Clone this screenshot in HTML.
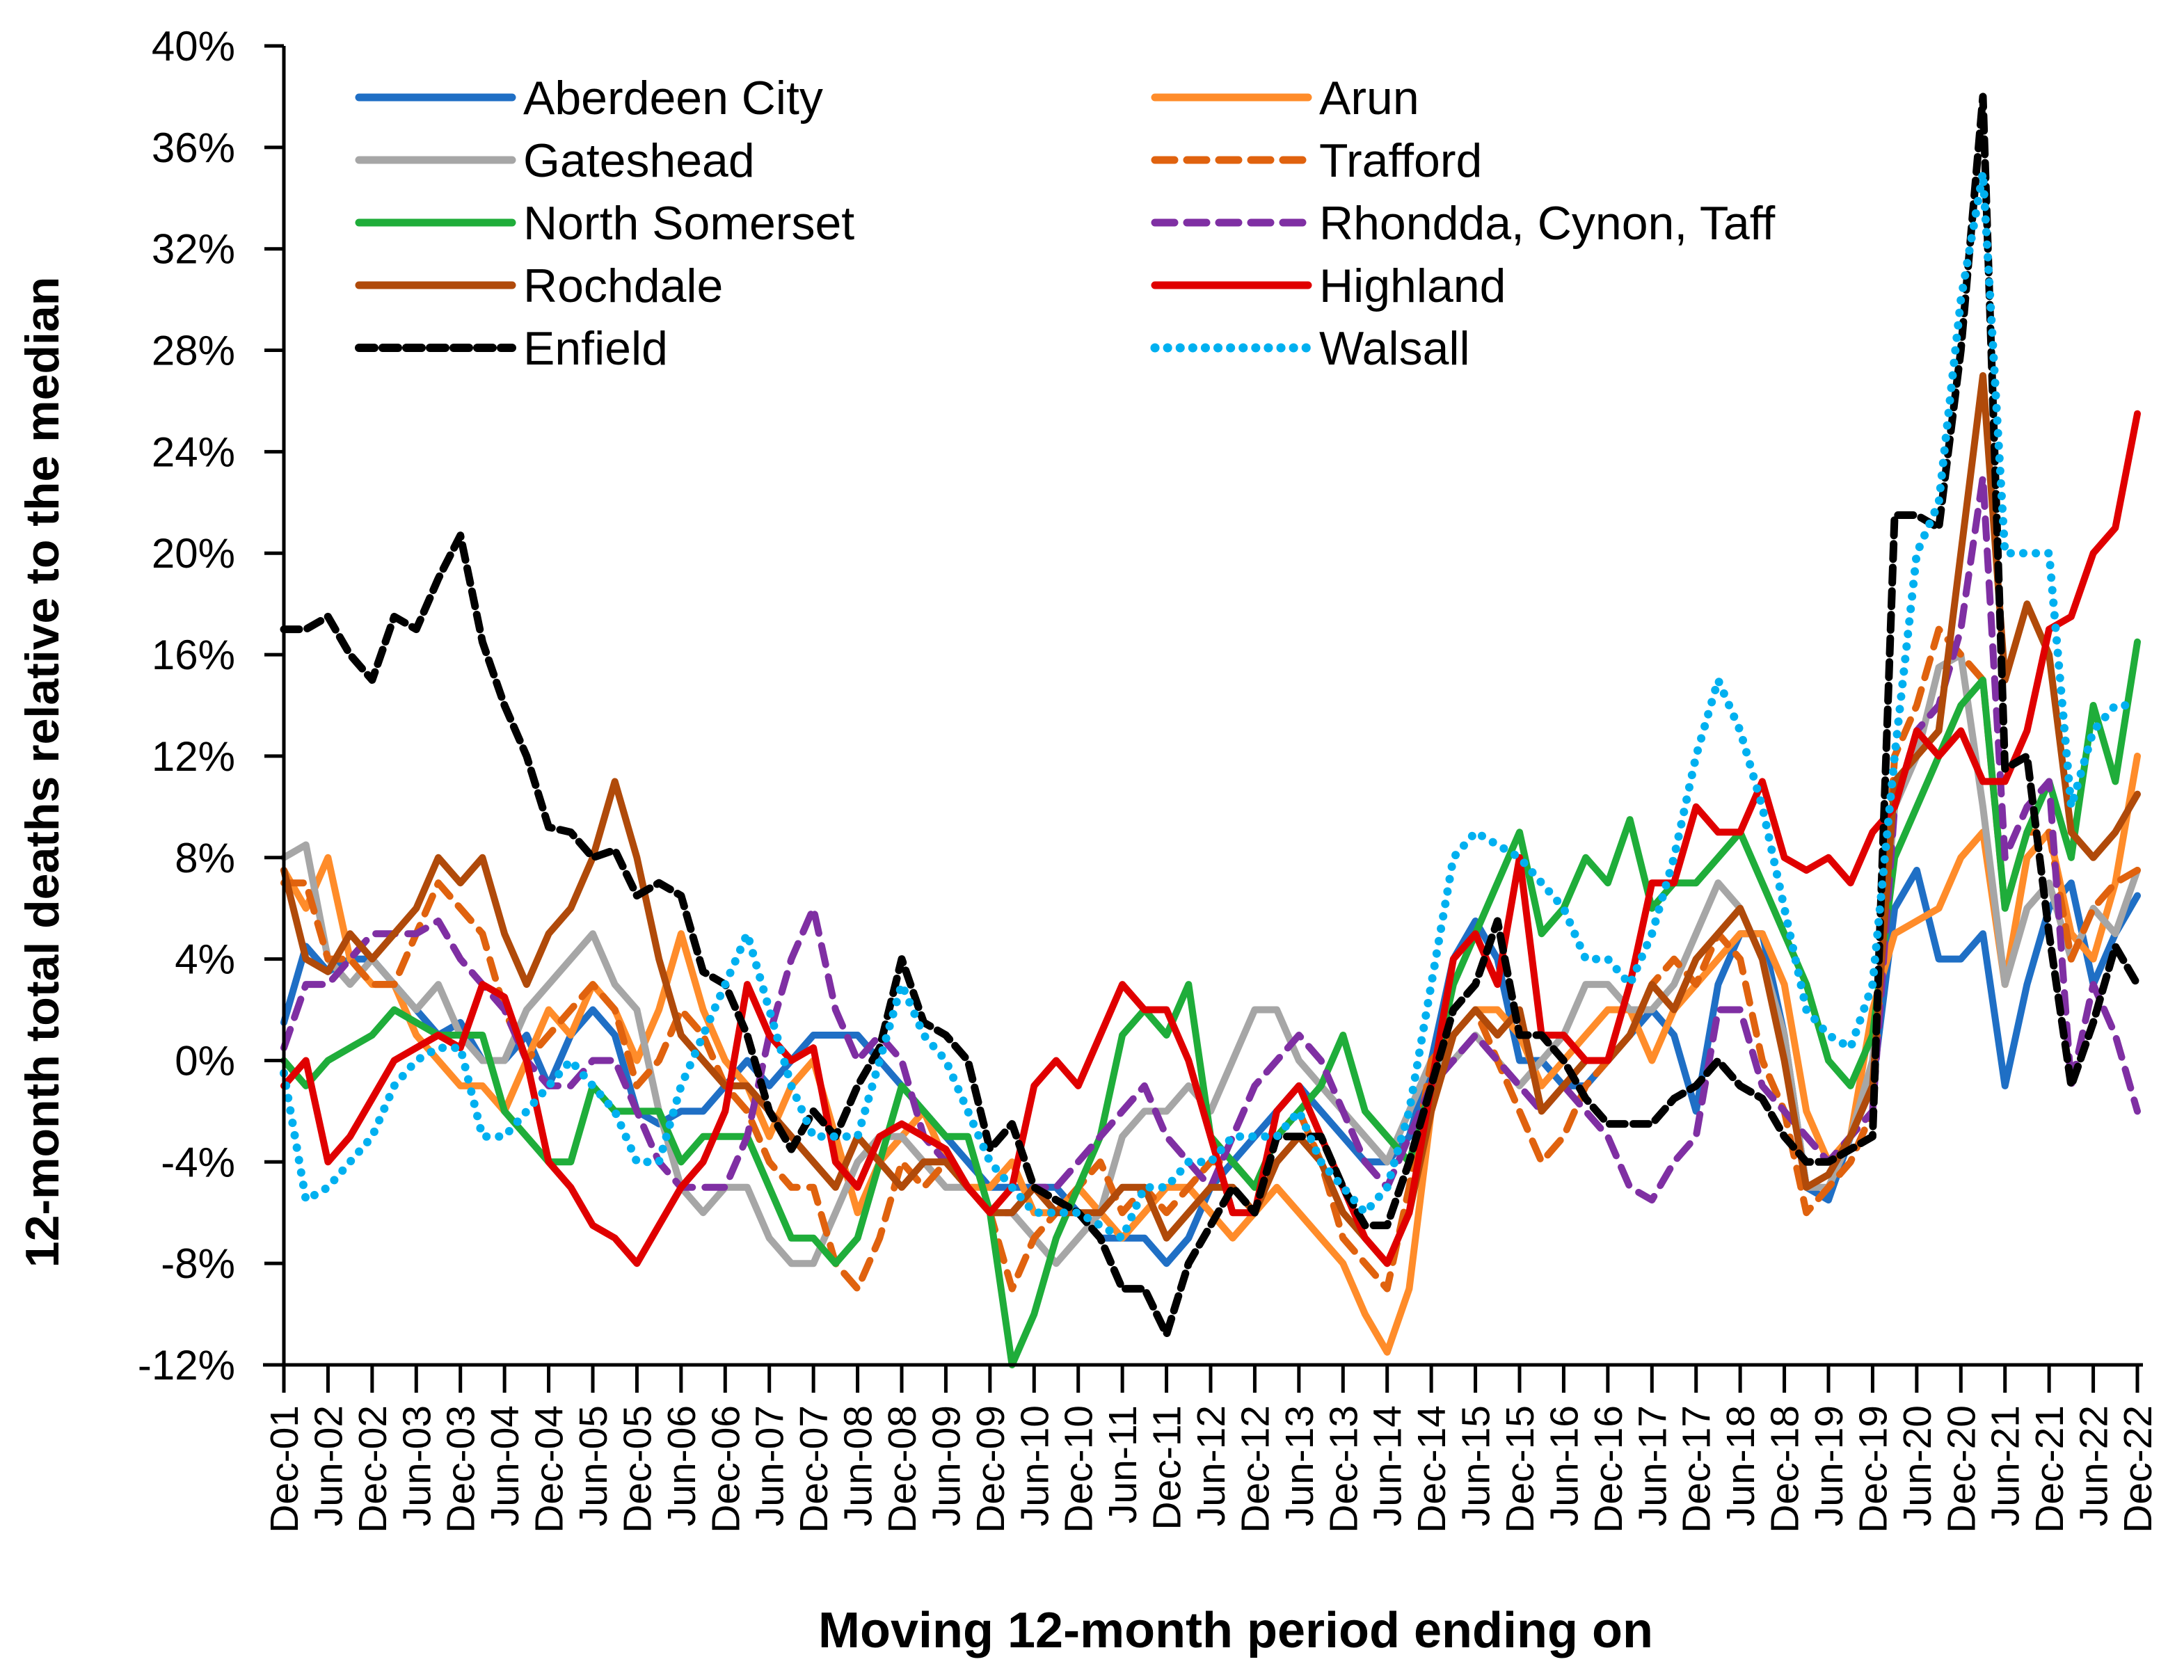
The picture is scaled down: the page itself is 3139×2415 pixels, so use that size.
<!DOCTYPE html>
<html><head><meta charset="utf-8"><style>
html,body{margin:0;padding:0;background:#fff;}
svg{display:block;font-family:"Liberation Sans",sans-serif;}
</style></head><body>
<svg id="chart" width="3139" height="2415" viewBox="0 0 3139 2415" xmlns="http://www.w3.org/2000/svg">
<rect width="3139" height="2415" fill="#fff"/>
<g id="grid"></g><g id="series"></g><g id="axes"></g><g id="legend"></g>
<text transform="translate(84,1110) rotate(-90)" text-anchor="middle" font-size="68" font-weight="bold">12-month total deaths relative to the median</text>
<text x="1776" y="2368" text-anchor="middle" font-size="72" font-weight="bold">Moving 12-month period ending on</text>
</svg>
<script>
// quarterly values: Dec-01, then Mar, Jun, Sep, Dec for each year 02..22
const yTicks = [-12,-8,-4,0,4,8,12,16,20,24,28,32,36,40];
const xTickLabels = [];
for (let y=1; y<=22; y++){ const yy=String(y).padStart(2,'0'); if(y>1) xTickLabels.push('Jun-'+yy); xTickLabels.push('Dec-'+yy); }

const aberdeen = [1.5, 4.5,3.5,4,4, 3,2,1,1.5, 0,0,1,-1, 1,2,1,-2, -2.5,-2,-2,-1, 0,-1,0,1, 1,1,0,-1, -2,-3,-4,-5, -5,-5,-5,-6, -7,-7,-7,-8, -7,-5,-4,-3, -2,-1,-2,-3, -4,-4,-3,0, 4,5.5,4,0, 0,-1,-1,0, 1,2,1,-2, 3,5,5,1, -5,-5.5,-3,-1, 6,7.5,4,4, 5,-1,3,6, 7,3,5,6.5];
const arun = [7.5, 6,8,4,3, 3,1,0,-1, -1,-2,0,2, 1,3,2,0, 2,5,2,0, -1,-3,-1,0, -3,-6,-4,-3, -2,-4,-5,-5, -4,-6,-6,-5, -6,-7,-6,-5, -5,-6,-7,-6, -5,-6,-7,-8, -10,-11.5,-9,-2, 1,2,2,1, -1,0,1,2, 2,0,2,3, 4,5,5,3, -2,-4,-3,2, 5,5.5,6,8, 9,3,8,9, 5,4,7,12];
const gateshead = [8, 8.5,4,3,4, 3,2,3,1, 0,0,2,3, 4,5,3,2, -2,-5,-6,-5, -5,-7,-8,-8, -6,-4,-3,-3, -4,-5,-5,-6, -6,-7,-8,-7, -6,-3,-2,-2, -1,-2,0,2, 2,0,-1,-2, -3,-4,-2,0, 0,1,0,-1, 0,1,3,3, 2,2,3,5, 7,6,4,1, -5,-5,-3,0, 10,12,15.5,16, 10,3,6,7, 4,6,5,7.5];
const trafford = [7, 7,4,4,3, 3,5,7,6, 5,2,0,1, 2,3,2,-1, 0,2,1,-1, -2,-4,-5,-5, -8,-9,-7,-4, -5,-4,-5,-6, -9,-7,-6,-5, -4,-6,-5,-6, -5,-4,-4,-5, -3,-2,-4,-7, -8,-9,-5,0, 1,2,0,-2, -4,-3,-1,0, 1,3,4,3, 5,4,0,-2, -6,-5,-4,-2, 12,14,17,16, 15,6,9,9, 4,6,7,7.5];
const northSomerset = [0, -1,0,0.5,1, 2,1.5,1,1, 1,-2,-3,-4, -4,-1,-2,-2, -2,-4,-3,-3, -3,-5,-7,-7, -8,-7,-4,-1, -2,-3,-3,-6, -12,-10,-7,-5, -3,1,2,1, 3,-3,-4,-5, -3,-2,-1,1, -2,-3,-4,-1, 3,5,7,9, 5,6,8,7, 9.5,6,7,7, 8,9,7,5, 3,0,-1,1, 8,10,12,14, 15,6,9,11, 8,14,11,16.5];
const rhondda = [0.5, 3,3,4,5, 5,5,5.5,4, 3,2,0,-1, -1,0,0,-2, -4,-5,-5,-5, -3,1,4,6, 2,0,1,0, -3,-4,-5,-6, -6,-5,-5,-4, -3,-2,-1,-3, -4,-5,-3,-1, 0,1,0,-2, -4,-5,-3,-1, 0,1,0,-1, -2,-1,-2,-3, -5,-5.5,-4,-3, 2,2,-1,-2, -3,-4,-3,-2, 10,13,14,17, 23,8,10,11, -1,3,1,-2];
const rochdale = [7.5, 4,3.5,5,4, 5,6,8,7, 8,5,3,5, 6,8,11,8, 4,1,0,-1, -1,-2,-3,-4, -5,-3,-4,-5, -4,-4,-5,-6, -6,-5,-6,-6, -6,-5,-5,-7, -6,-5,-5,-6, -4,-3,-4,-6, -7,-8,-6,-2, 1,2,1,2, -2,-1,0,0, 1,3,2,4, 5,6,4,0, -5,-4.5,-3,-1, 11,12,13,20, 27,15,18,16, 9,8,9,10.5];
const highland = [-1, 0,-4,-3,-1.5, 0,0.5,1,0.5, 3,2.5,0,-4, -5,-6.5,-7,-8, -6.5,-5,-4,-2, 3,1,0,0.5, -4,-5,-3,-2.5, -3,-3.5,-5,-6, -5,-1,0,-1, 1,3,2,2, 0,-3,-6,-6, -2,-1,-3,-5, -7,-8,-6,-1, 4,5,3,8, 1,1,0,0, 3,7,7,10, 9,9,11,8, 7.5,8,7,9, 10,13,12,13, 11,11,13,17, 17.5,20,21,25.5];
const enfield = [17, 17,17.5,16,15, 17.5,17,19,20.7, 16.5,14,12,9.2, 9,8,8.3,6.5, 7,6.5,3.5,3, 1,-2,-3.5,-2, -3,-1,0.5,4, 1.5,1,0,-3.5, -2.5,-5,-5.5,-6, -7,-9,-9,-10.8, -8,-6.5,-5,-6, -3,-3,-3,-5, -6.5,-6.5,-4,-1, 2,3,5.5,1, 1,0,-1.5,-2.5, -2.5,-2.5,-1.5,-1, 0,-1,-1.5,-3, -4,-4,-3.5,-3, 21.5,21.5,21,28, 38,11.5,12,5, -1,1.5,4.5,3];
const walsall = [-0.5, -5.5,-5,-4,-3, -1,0,0.5,0.5, -3,-3,-2,-1, 0,-1,-2,-4, -4,-1,1,3, 5,2,-1,-3, -3,-3,0,3, 1,0,-2,-4, -5,-6,-6,-6, -6.5,-7,-5,-5, -4,-4,-3,-3, -3,-2,-4,-5, -6,-5,-2,3, 8,9,8.5,8, 7,6,4,4, 3,5,8,12, 15,13,10,6, 2,1,0.5,3, 12,20,22,30, 35,20,20,20, 10,13,14,14];

const seriesDefs = [
 {name:'Aberdeen City', data:aberdeen, color:'#1f6fc5', dash:null, w:10},
 {name:'Arun', data:arun, color:'#ff8c2a', dash:null, w:10},
 {name:'Gateshead', data:gateshead, color:'#a6a6a6', dash:null, w:10},
 {name:'Trafford', data:trafford, color:'#e0620e', dash:'28 18', w:10},
 {name:'North Somerset', data:northSomerset, color:'#1fad3a', dash:null, w:10},
 {name:'Rhondda, Cynon, Taff', data:rhondda, color:'#7f2fa3', dash:'28 18', w:10},
 {name:'Rochdale', data:rochdale, color:'#b04a0a', dash:null, w:10},
 {name:'Highland', data:highland, color:'#e00000', dash:null, w:10},
 {name:'Enfield', data:enfield, color:'#000000', dash:'22 12', w:11},
 {name:'Walsall', data:walsall, color:'#00b0f0', dash:'0.1 18', w:12}
];
const X0=408, X1=3072, Y0=1962, Y1=66, VMIN=-12, VMAX=40, MONTHS=252;
const xs = m => X0 + (X1-X0)*m/MONTHS;
const ys = v => Y0 - (Y0-Y1)*(v-VMIN)/(VMAX-VMIN);
const NS='http://www.w3.org/2000/svg';
function mk(tag, attrs, parent){ const e=document.createElementNS(NS,tag); for(const k in attrs) e.setAttribute(k,attrs[k]); parent.appendChild(e); return e; }
const axes=document.getElementById('axes'), ser=document.getElementById('series'), leg=document.getElementById('legend');

seriesDefs.forEach(s=>{
  const pts = s.data.map((v,i)=>xs(i*3).toFixed(1)+','+ys(v).toFixed(1)).join(' ');
  const a={points:pts, fill:'none', stroke:s.color, 'stroke-width':s.w, 'stroke-linejoin':'round', 'stroke-linecap':'round'};
  if(s.dash) a['stroke-dasharray']=s.dash;
  const p=mk('polyline',a,ser);
  
  
});

const yl=mk('line',{x1:X0,y1:Y1,x2:X0,y2:Y0,stroke:'#000','stroke-width':5},axes);


const xl=mk('line',{x1:X0-30,y1:Y0,x2:X1+8,y2:Y0,stroke:'#000','stroke-width':5},axes);


yTicks.forEach(v=>{
  mk('line',{x1:X0-28,y1:ys(v),x2:X0,y2:ys(v),stroke:'#000','stroke-width':5},axes);
  const t=mk('text',{x:X0-70,y:ys(v)+21,'text-anchor':'end','font-size':60},axes);
  t.textContent=v+'%';
  
  
});
xTickLabels.forEach((lab,i)=>{
  const x=xs(i*6);
  mk('line',{x1:x,y1:Y0,x2:x,y2:Y0+40,stroke:'#000','stroke-width':5},axes);
  const t=mk('text',{transform:`translate(${x+20},${Y0+58}) rotate(-90)`,'text-anchor':'end','font-size':57},axes);
  t.textContent=lab;
  
  
});

seriesDefs.forEach((s,i)=>{
  const col=i%2, row=Math.floor(i/2);
  const lx= col===0?516:1660, ly=140+row*90;
  const a={x1:lx,y1:ly,x2:lx+220,y2:ly,stroke:s.color,'stroke-width':s.w+1,'stroke-linecap':'round'};
  if(s.dash) a['stroke-dasharray']=s.dash;
  const g=mk('g',{},leg);
  
  
  mk('line',a,g);
  const t=mk('text',{x:lx+236,y:ly+24,'font-size':68},g);
  t.textContent=s.name;
});
</script>
</body></html>
